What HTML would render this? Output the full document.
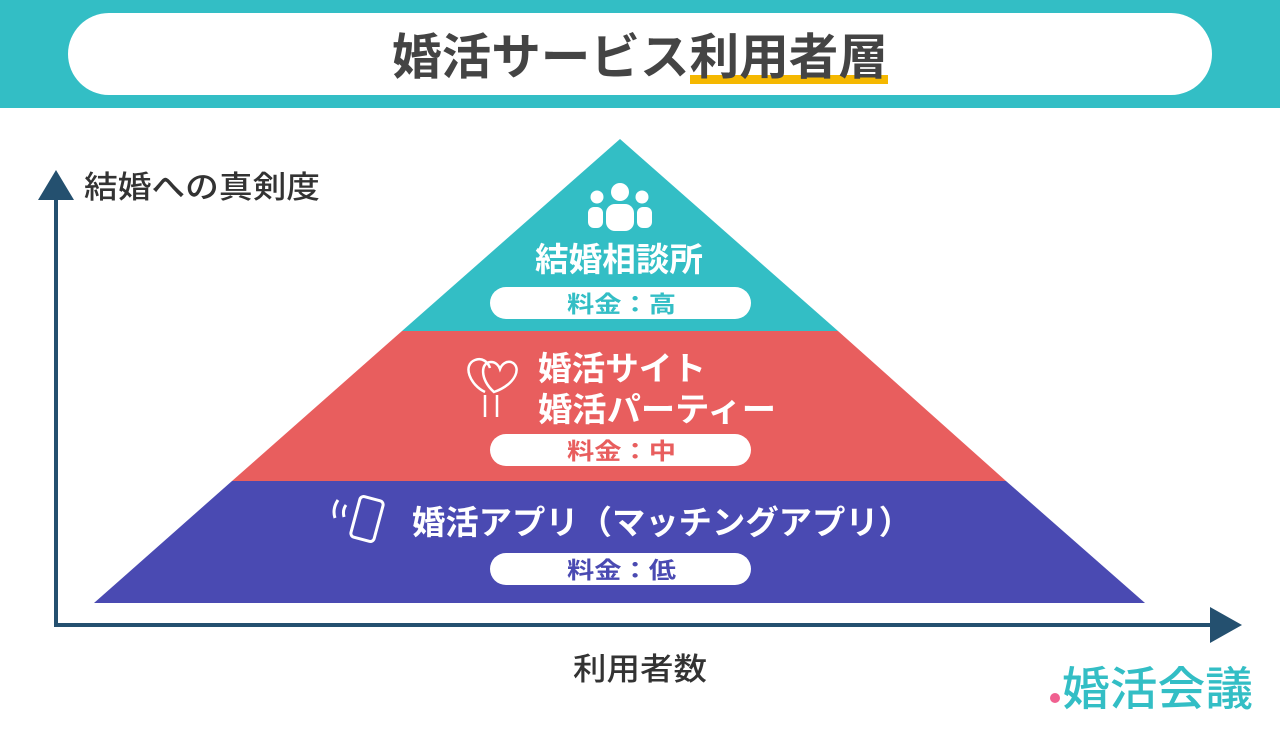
<!DOCTYPE html>
<html><head><meta charset="utf-8"><style>
body{margin:0;width:1280px;height:732px;overflow:hidden;background:#fff}
text{font-family:"Liberation Sans","Noto Sans CJK JP",sans-serif;font-weight:bold}
</style></head><body>
<svg width="1280" height="732" viewBox="0 0 1280 732" xmlns="http://www.w3.org/2000/svg">
<rect x="0" y="0" width="1280" height="108" fill="#33bec5"/>
<rect x="68" y="13" width="1144" height="82" rx="41" fill="#fff"/>
<rect x="690" y="75" width="198" height="9" fill="#f5b800"/>
<text x="392" y="74" font-size="49" fill="#444" textLength="496" lengthAdjust="spacingAndGlyphs">婚活サービス利用者層</text>

<polygon points="620,139 838,331 402,331" fill="#33bec5"/>
<polygon points="402,331 838,331 1006,481 232,481" fill="#e85e5e"/>
<polygon points="232,481 1006,481 1145,603 94,603" fill="#4a4ab2"/>

<g fill="#fff">
<circle cx="620" cy="192" r="9"/><circle cx="597" cy="197" r="6.5"/><circle cx="642" cy="197" r="6.5"/>
<rect x="606" y="204" width="28" height="27" rx="9"/>
<rect x="588" y="207" width="15" height="21" rx="6"/><rect x="637" y="207" width="15" height="21" rx="6"/>
</g>
<text x="535" y="271" font-size="33" fill="#fff" textLength="168" lengthAdjust="spacingAndGlyphs">結婚相談所</text>
<rect x="490" y="287" width="261" height="32" rx="16" fill="#fff"/>
<text x="567" y="312" font-size="23" fill="#33bec5" textLength="109" lengthAdjust="spacingAndGlyphs">料金：高</text>

<g fill="none" stroke="#fff" stroke-width="2.5">
<path d="M485 392 C470 385 462 365 475 360 C482 357 488 362 490 368"/>
<path d="M494 392 C480 380 480 362 491 362 C496 362 499 366 500 369 C502 364 506 361 511 362 C522 366 517 384 494 392Z"/>
<line x1="485" y1="395" x2="485" y2="417"/><line x1="497" y1="395" x2="497" y2="417"/>
</g>
<text x="538" y="380" font-size="33" fill="#fff" textLength="168" lengthAdjust="spacingAndGlyphs">婚活サイト</text>
<text x="538" y="421" font-size="33" fill="#fff" textLength="238" lengthAdjust="spacingAndGlyphs">婚活パーティー</text>
<rect x="490" y="434" width="261" height="32" rx="16" fill="#fff"/>
<text x="567" y="459" font-size="23" fill="#e85e5e" textLength="109" lengthAdjust="spacingAndGlyphs">料金：中</text>

<g fill="none" stroke="#fff" stroke-width="3">
<rect x="355" y="498" width="24" height="42" rx="4" transform="rotate(15 367 519)"/>
<path d="M338 500 C334 506 333 512 335 518"/><path d="M346 505 C343 509 343 513 344 517"/>
</g>
<text x="412" y="534" font-size="33" fill="#fff" textLength="500" lengthAdjust="spacingAndGlyphs">婚活アプリ（マッチングアプリ）</text>
<rect x="490" y="553" width="261" height="32" rx="16" fill="#fff"/>
<text x="567" y="578" font-size="23" fill="#4a4ab2" textLength="109" lengthAdjust="spacingAndGlyphs">料金：低</text>

<g fill="#24506f" stroke="#24506f">
<line x1="56" y1="198" x2="56" y2="625" stroke-width="4"/>
<line x1="54" y1="625" x2="1214" y2="625" stroke-width="4"/>
<polygon points="56,170 38,200 74,200" stroke="none"/>
<polygon points="1242,625 1210,607 1210,643" stroke="none"/>
</g>
<text x="84" y="198" font-size="31" fill="#333" textLength="236" lengthAdjust="spacingAndGlyphs" style="font-weight:500">結婚への真剣度</text>
<text x="573" y="680" font-size="31" fill="#333" textLength="134" lengthAdjust="spacingAndGlyphs" style="font-weight:500">利用者数</text>

<circle cx="1055" cy="698" r="5" fill="#f06090"/>
<text x="1062" y="705" font-size="46" fill="#33bec5" textLength="191" lengthAdjust="spacingAndGlyphs" style="font-weight:500">婚活会議</text>
</svg>
</body></html>
